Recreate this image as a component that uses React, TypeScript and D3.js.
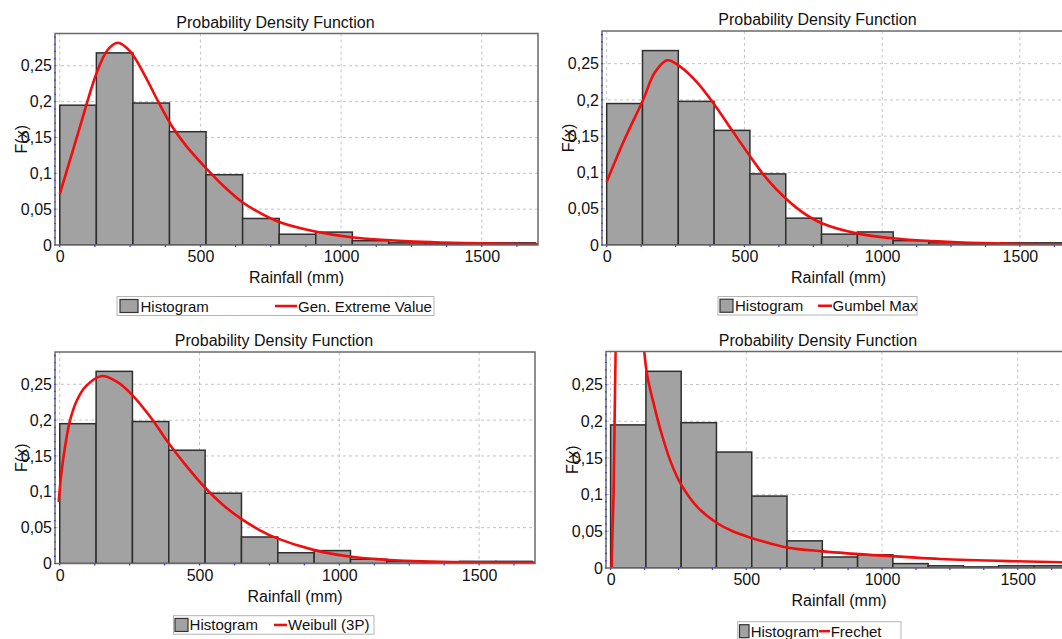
import React, { useEffect, useRef } from 'react';
import * as d3 from 'd3';

// histogram of rainfall (bin edges in mm, density per bin)
const binEdges = [0, 130, 260, 390, 520, 650, 780, 910, 1040, 1170, 1300, 1430, 1560, 1690];
const histDensity = [0.195, 0.268, 0.198, 0.158, 0.098, 0.037, 0.015, 0.018, 0.006, 0.003, 0.0015, 0.003, 0.003];

// fitted pdf curves
const gevX = [0, 65, 131, 170, 206, 250, 300, 350, 400, 450, 518, 583, 648, 715, 780, 908, 1035, 1258, 1700];
const gevY = [0.071, 0.156, 0.24, 0.272, 0.282, 0.27, 0.238, 0.2, 0.165, 0.138, 0.108, 0.082, 0.06, 0.044, 0.032, 0.0187, 0.0107, 0.0047, 0.0013];

const gumbelX = [0, 63, 132, 175, 220, 263, 329, 392, 457, 521, 584, 650, 715, 781, 908, 1038, 1274, 1700];
const gumbelY = [0.087, 0.144, 0.2, 0.238, 0.2546, 0.247, 0.224, 0.193, 0.157, 0.122, 0.09, 0.064, 0.044, 0.03, 0.016, 0.0092, 0.0037, 0.0008];

const weibullX = [-4, 6, 19, 37, 62, 93, 151, 204, 257, 327, 389, 457, 519, 583, 648, 713, 778, 908, 1037, 1266, 1700];
const weibullY = [0.086, 0.126, 0.163, 0.2, 0.228, 0.247, 0.2615, 0.2536, 0.236, 0.203, 0.168, 0.134, 0.106, 0.082, 0.0625, 0.047, 0.035, 0.019, 0.0098, 0.0033, 0.0013];

const frechetX = [3.7, 7.4, 11, 14.7, 18.4, 25, 60, 100, 122.7, 135, 160, 184, 220, 258, 320, 393, 450, 519, 650, 783, 1003, 1215, 1497, 1700];
const frechetY = [0, 0.057, 0.102, 0.2, 0.295, 0.45, 0.6, 0.42, 0.3, 0.262, 0.222, 0.188, 0.146, 0.115, 0.083, 0.061, 0.05, 0.041, 0.028, 0.0227, 0.0168, 0.0123, 0.0091, 0.0075];

const distNames = ['Gen. Extreme Value', 'Gumbel Max', 'Weibull (3P)', 'Frechet'];

const xTicks = [0, 500, 1000, 1500];
const yTicks = [0, 0.05, 0.1, 0.15, 0.2, 0.25];
const yTickLabels = ['0', '0,05', '0,1', '0,15', '0,2', '0,25'];

const FONT = '"Liberation Sans", Arial, sans-serif';

// where each of the four screenshots sits on the page
const layouts = [
  { left: 55, right: 538, top: 33.5, bottom: 245,
    lg: { x: 117, y: 296.5, w: 317, h: 19, sw: 120, swW: 18, tx: 140.5, l1: 275, l2: 297, lx: 298 } },
  { left: 602, right: 1075, top: 31, bottom: 245,
    lg: { x: 718, y: 296.5, w: 199, h: 18.5, sw: 720, swW: 13, tx: 735, l1: 818, l2: 832, lx: 832.5 } },
  { left: 55, right: 535, top: 352, bottom: 563.5,
    lg: { x: 173.5, y: 615.7, w: 200.5, h: 18.5, sw: 175, swW: 13, tx: 189.6, l1: 274, l2: 287, lx: 288 } },
  { left: 606, right: 1072, top: 351.5, bottom: 568,
    lg: { x: 737.7, y: 621.7, w: 163.3, h: 19, sw: 739.5, swW: 9.5, tx: 750.7, l1: 819, l2: 830, lx: 830.7 } },
];

const curves = [
  [gevX, gevY],
  [gumbelX, gumbelY],
  [weibullX, weibullY],
  [frechetX, frechetY],
];

export default function App() {
  const ref = useRef<SVGSVGElement>(null);

  useEffect(() => {
    const svg = d3.select(ref.current);
    svg.selectAll('*').remove();

    layouts.forEach((L, pi) => {
      const g = svg.append('g');
      const x = d3.scaleLinear().domain([-17, 1700]).range([L.left, L.right]);
      const y = d3.scaleLinear().domain([0, 0.295]).range([L.bottom, L.top]);
      const midX = (L.left + L.right) / 2;

      // title
      g.append('text')
        .attr('x', midX - 21)
        .attr('y', L.top - 6)
        .attr('text-anchor', 'middle')
        .attr('font-size', 16)
        .attr('fill', '#111')
        .text('Probability Density Function');

      // plot background
      g.append('rect')
        .attr('x', L.left).attr('y', L.top)
        .attr('width', L.right - L.left).attr('height', L.bottom - L.top)
        .attr('fill', '#fff');

      const clipId = `clip${pi}`;
      g.append('clipPath').attr('id', clipId)
        .append('rect')
        .attr('x', L.left).attr('y', L.top)
        .attr('width', L.right - L.left).attr('height', L.bottom - L.top);

      // grid
      g.selectAll('.hgrid')
        .data(yTicks.slice(1))
        .enter().append('line')
        .attr('x1', L.left).attr('x2', L.right)
        .attr('y1', d => y(d)).attr('y2', d => y(d))
        .attr('stroke', '#c4c4c4')
        .attr('stroke-dasharray', '3,3');

      g.selectAll('.vgrid')
        .data(xTicks)
        .enter().append('line')
        .attr('x1', d => x(d)).attr('x2', d => x(d))
        .attr('y1', L.top).attr('y2', L.bottom)
        .attr('stroke', '#c4c4c4')
        .attr('stroke-dasharray', '3,3');

      // histogram bars
      const plot = g.append('g').attr('clip-path', `url(#${clipId})`);
      plot.selectAll('.bar')
        .data(histDensity)
        .enter().append('rect')
        .attr('x', (d, i) => x(binEdges[i]))
        .attr('y', d => y(d))
        .attr('width', (d, i) => x(binEdges[i + 1]) - x(binEdges[i]))
        .attr('height', d => L.bottom - y(d))
        .attr('fill', '#a2a2a2')
        .attr('stroke', '#2e2e2e')
        .attr('stroke-width', 1.5);

      // fitted curve
      const [cx, cy] = curves[pi];
      const line = d3.line<number>()
        .x((d, i) => x(cx[i]))
        .y(d => y(d))
        .curve(d3.curveCatmullRom.alpha(0.5));
      plot.append('path')
        .attr('d', line(cy))
        .attr('fill', 'none')
        .attr('stroke', '#f20d0d')
        .attr('stroke-width', 2.6);

      // frame
      g.append('rect')
        .attr('x', L.left).attr('y', L.top)
        .attr('width', L.right - L.left).attr('height', L.bottom - L.top)
        .attr('fill', 'none')
        .attr('stroke', '#6a6a6a')
        .attr('stroke-width', 1.5);

      // small blue ticks
      g.selectAll('.xminor')
        .data(d3.range(0, 1701, 125))
        .enter().append('line')
        .attr('x1', d => x(d)).attr('x2', d => x(d))
        .attr('y1', L.bottom).attr('y2', L.bottom + 2)
        .attr('stroke', '#3a3aff')
        .attr('stroke-width', 1.2);
      g.selectAll('.yminor')
        .data(d3.range(0, 0.2951, 0.01))
        .enter().append('line')
        .attr('x1', L.left - 1).attr('x2', L.left + 0.8)
        .attr('y1', d => y(d)).attr('y2', d => y(d))
        .attr('stroke', '#3a3aff')
        .attr('stroke-width', 1.2);

      // axes labels
      const yAxis = g.append('g')
        .attr('transform', `translate(${L.left},0)`)
        .call(d3.axisLeft(y).tickValues(yTicks).tickFormat((d, i) => yTickLabels[i]).tickSize(0).tickPadding(3));
      const xAxis = g.append('g')
        .attr('transform', `translate(0,${L.bottom})`)
        .call(d3.axisBottom(x).tickValues(xTicks).tickFormat(d3.format('d')).tickSize(0).tickPadding(6));
      [yAxis, xAxis].forEach(a => {
        a.select('.domain').remove();
        a.selectAll('text')
          .attr('font-size', 16)
          .attr('font-family', FONT)
          .attr('fill', '#111');
      });

      g.append('text')
        .attr('x', midX)
        .attr('y', L.bottom + 38)
        .attr('text-anchor', 'middle')
        .attr('font-size', 16)
        .attr('fill', '#111')
        .text('Rainfall (mm)');

      g.append('text')
        .attr('transform', `translate(${L.left - 28},${(L.top + L.bottom) / 2}) rotate(-90)`)
        .attr('text-anchor', 'middle')
        .attr('font-size', 16)
        .attr('fill', '#111')
        .text('F(x)');

      // legend
      const lg = L.lg;
      const cyL = lg.y + lg.h / 2;
      g.append('rect')
        .attr('x', lg.x).attr('y', lg.y)
        .attr('width', lg.w).attr('height', lg.h)
        .attr('fill', '#fff')
        .attr('stroke', '#b4b4b4');
      g.append('rect')
        .attr('x', lg.sw).attr('y', cyL - 6.5)
        .attr('width', lg.swW).attr('height', 13)
        .attr('fill', '#a2a2a2')
        .attr('stroke', '#333')
        .attr('stroke-width', 1.2);
      g.append('text')
        .attr('x', lg.tx).attr('y', cyL + 5.5)
        .attr('font-size', 15)
        .attr('fill', '#111')
        .text('Histogram');
      g.append('line')
        .attr('x1', lg.l1).attr('x2', lg.l2)
        .attr('y1', cyL).attr('y2', cyL)
        .attr('stroke', '#f20d0d')
        .attr('stroke-width', 2.5);
      g.append('text')
        .attr('x', lg.lx).attr('y', cyL + 5.5)
        .attr('font-size', 15)
        .attr('fill', '#111')
        .text(distNames[pi]);
    });
  }, []);

  return (
    <svg
      ref={ref}
      width={1062}
      height={639}
      fontFamily={FONT}
      style={{ position: 'absolute', left: 0, top: 0, background: '#fff', overflow: 'hidden' }}
    />
  );
}
